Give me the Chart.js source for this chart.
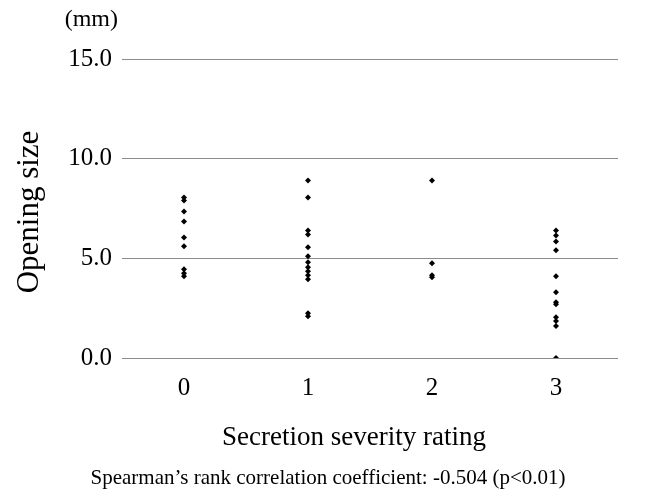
<!DOCTYPE html>
<html>
<head>
<meta charset="utf-8">
<script src="https://cdn.jsdelivr.net/npm/chart.js@4/dist/chart.umd.min.js"></script>
<style>
html,body{margin:0;padding:0;background:#fff;}
#wrap{width:657px;height:496px;}
</style>
</head>
<body>
<div id="wrap"><canvas id="c" width="657" height="496"></canvas></div>
<script>
const categories = ['0', '1', '2', '3'];
const rating0 = [8.05, 7.9, 7.35, 6.85, 6.05, 5.6, 4.45, 4.25, 4.1];
const rating1 = [8.9, 8.05, 6.4, 6.2, 5.55, 5.1, 4.8, 4.55, 4.35, 4.15, 3.95, 2.25, 2.1];
const rating2 = [8.9, 4.75, 4.15, 4.05];
const rating3 = [6.4, 6.15, 5.85, 5.4, 4.1, 3.3, 2.8, 2.7, 2.05, 1.85, 1.6, 0.0];
const yTicks = [0, 5, 10, 15];
const yTitle = 'Opening size';
const yUnit = '(mm)';
const xTitle = 'Secretion severity rating';
const footnote = 'Spearman\u2019s rank correlation coefficient: -0.504 (p<0.01)';

const groups = [rating0, rating1, rating2, rating3];
const points = [];
groups.forEach((vals, i) => vals.forEach(v => points.push({x: i, y: v})));

const FONT = '"Liberation Serif", "Times New Roman", serif';

const textPlugin = {
  id: 'texts',
  afterDraw(chart) {
    const ctx = chart.ctx;
    ctx.save();
    ctx.fillStyle = '#000';
    ctx.textBaseline = 'middle';
    ctx.textAlign = 'right';
    ctx.font = '24px ' + FONT;
    ctx.fillText(yUnit, 118, 20);
    ctx.textAlign = 'center';
    ctx.font = '27px ' + FONT;
    ctx.fillText(xTitle, 354, 438);
    ctx.font = '21px ' + FONT;
    ctx.fillText(footnote, 328, 478);
    ctx.translate(30, 212);
    ctx.rotate(-Math.PI / 2);
    ctx.font = '31px ' + FONT;
    ctx.fillText(yTitle, 0, 0);
    ctx.restore();
  }
};

new Chart(document.getElementById('c'), {
  type: 'scatter',
  data: {
    datasets: [{
      data: points,
      pointStyle: 'rectRot',
      radius: 3,
      backgroundColor: '#000',
      borderColor: '#000',
      borderWidth: 0
    }]
  },
  options: {
    responsive: false,
    animation: false,
    layout: {padding: {left: 0, right: 39, top: 59, bottom: 0}},
    plugins: {legend: {display: false}, tooltip: {enabled: false}},
    scales: {
      x: {
        type: 'linear',
        min: -0.5,
        max: 3.5,
        afterBuildTicks: s => { s.ticks = categories.map((c, i) => ({value: i})); },
        afterFit: s => { s.height = 138; },
        grid: {display: false, drawTicks: false},
        border: {display: false},
        ticks: {
          callback: (v) => categories[v],
          color: '#000',
          font: {family: FONT, size: 25},
          padding: 15,
          maxRotation: 0
        }
      },
      y: {
        min: 0,
        max: 15,
        afterBuildTicks: s => { s.ticks = yTicks.map(v => ({value: v})); },
        afterFit: s => { s.width = 122; },
        grid: {color: '#8c8c8c', lineWidth: 1, drawTicks: false},
        border: {display: false},
        ticks: {
          callback: v => v.toFixed(1),
          color: '#000',
          font: {family: FONT, size: 25},
          padding: 10
        }
      }
    }
  },
  plugins: [textPlugin]
});
</script>
</body>
</html>
